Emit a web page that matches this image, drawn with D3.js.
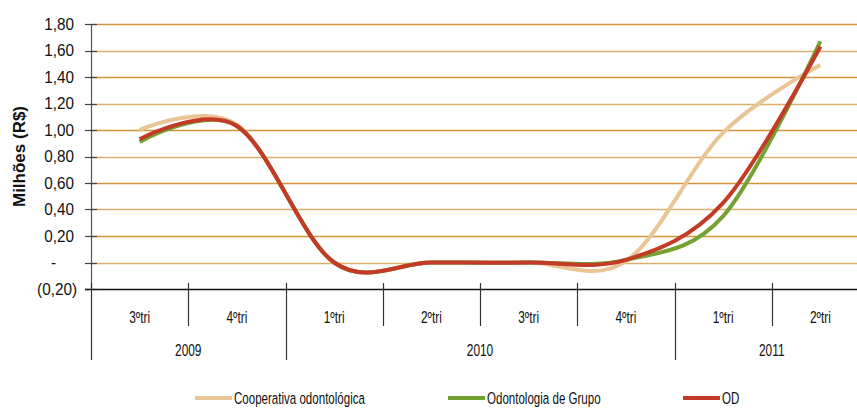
<!DOCTYPE html>
<html>
<head>
<meta charset="utf-8">
<script src="https://cdn.jsdelivr.net/npm/d3@7"></script>
<style>
  body { margin: 0; background: #fff; }
  text { font-family: "Liberation Sans", Arial, sans-serif; fill: #111; }
</style>
</head>
<body>
<div class="canvas"></div>
<script>
// data
const quarters = ['3ºtri', '4ºtri', '1ºtri', '2ºtri', '3ºtri', '4ºtri', '1ºtri', '2ºtri'];
const years = [
  { name: '2009', from: 0, to: 2 },
  { name: '2010', from: 2, to: 6 },
  { name: '2011', from: 6, to: 8 }
];
const cooperativa = [1.00, 1.04, 0.00, 0.00, 0.00, 0.01, 0.98, 1.49];
const grupo       = [0.91, 1.03, 0.00, 0.00, 0.00, 0.02, 0.35, 1.67];
const od          = [0.93, 1.03, 0.00, 0.00, 0.00, 0.02, 0.45, 1.63];
const yTicks = [-0.2, 0, 0.2, 0.4, 0.6, 0.8, 1.0, 1.2, 1.4, 1.6, 1.8];

const series = [
  { name: 'Cooperativa odontológica', values: cooperativa, colour: '#E9C596' },
  { name: 'Odontologia de Grupo', values: grupo, colour: '#74A232' },
  { name: 'OD', values: od, colour: '#C33A26' }
];

const dims = { width: 857, height: 408 };
const plot = { left: 91, right: 869, top: 24, bottom: 289 };
const squeeze = 0.72; // x labels and legend use a condensed face

const svg = d3.select('.canvas')
  .append('svg')
  .attr('width', dims.width)
  .attr('height', dims.height);

const x = d3.scaleBand()
  .domain(d3.range(quarters.length))
  .range([plot.left, plot.right]);

const y = d3.scaleLinear()
  .domain([-0.2, 1.8])
  .range([plot.bottom, plot.top]);

const locale = d3.formatLocale({ decimal: ',', thousands: '.', grouping: [3], currency: ['R$', ''] });
const fmt = locale.format('.2f');
const yLabel = d => d === 0 ? '-' : d < 0 ? `(${fmt(-d)})` : fmt(d);

// gridlines
svg.append('g')
  .selectAll('line')
  .data(yTicks.filter(d => d > -0.2))
  .join('line')
  .attr('x1', plot.left).attr('x2', plot.right)
  .attr('y1', d => Math.round(y(d)) + 0.5).attr('y2', d => Math.round(y(d)) + 0.5)
  .attr('stroke', (d, i) => i % 2 === 0 ? '#DDAE6A' : '#D2953A')
  .attr('stroke-width', 1.3);

// y axis
const yAxis = svg.append('g');
yAxis.append('line')
  .attr('x1', plot.left + 0.5).attr('x2', plot.left + 0.5)
  .attr('y1', plot.top).attr('y2', plot.bottom)
  .attr('stroke', '#555').attr('stroke-width', 1.2);
yAxis.selectAll('.tick')
  .data(yTicks)
  .join('line')
  .attr('x1', plot.left - 6).attr('x2', plot.left + 6)
  .attr('y1', d => Math.round(y(d)) + 0.5).attr('y2', d => Math.round(y(d)) + 0.5)
  .attr('stroke', '#444').attr('stroke-width', 1.2);
yAxis.selectAll('text')
  .data(yTicks)
  .join('text')
  .attr('transform', d => `translate(${d === 0 ? 56 : d < 0 ? 77 : 74},${y(d)}) scale(0.9,1)`)
  .attr('dy', '0.35em')
  .attr('text-anchor', 'end')
  .attr('font-size', 17)
  .text(yLabel);

svg.append('text')
  .attr('transform', `translate(25,${(plot.top + plot.bottom) / 2}) rotate(-90)`)
  .attr('text-anchor', 'middle')
  .attr('font-size', 17)
  .attr('font-weight', 'bold')
  .text('Milhões (R$)');

// x axis with two levels
const xAxis = svg.append('g');
xAxis.append('line')
  .attr('x1', plot.left - 6).attr('x2', plot.right)
  .attr('y1', plot.bottom + 0.5).attr('y2', plot.bottom + 0.5)
  .attr('stroke', '#111').attr('stroke-width', 1.3);

const yearEdges = [0, ...years.map(d => d.to)];
xAxis.selectAll('.qsep')
  .data(d3.range(quarters.length + 1))
  .join('line')
  .attr('x1', i => Math.round(plot.left + i * x.step()) + 0.5)
  .attr('x2', i => Math.round(plot.left + i * x.step()) + 0.5)
  .attr('y1', plot.bottom - 6)
  .attr('y2', i => yearEdges.includes(i) ? 360 : 326)
  .attr('stroke', '#333').attr('stroke-width', 1.2);

xAxis.selectAll('.qlabel')
  .data(quarters)
  .join('text')
  .attr('transform', (d, i) => `translate(${x(i) + x.bandwidth() / 2},317) scale(${squeeze},1)`)
  .attr('dy', '0.35em')
  .attr('text-anchor', 'middle')
  .attr('font-size', 16.5)
  .text(d => d);

xAxis.selectAll('.ylabel')
  .data(years)
  .join('text')
  .attr('transform', d => `translate(${plot.left + (d.from + d.to) / 2 * x.step()},350) scale(${squeeze},1)`)
  .attr('dy', '0.35em')
  .attr('text-anchor', 'middle')
  .attr('font-size', 16.5)
  .text(d => d.name);

// lines, Excel-style smoothing
const line = d3.line()
  .x((d, i) => x(i) + x.bandwidth() / 2)
  .y(d => y(d))
  .curve(d3.curveCardinal.tension(0));

svg.append('g')
  .selectAll('path')
  .data(series)
  .join('path')
  .attr('d', d => line(d.values))
  .attr('fill', 'none')
  .attr('stroke', d => d.colour)
  .attr('stroke-width', 4)
  .attr('stroke-linejoin', 'round');

// legend
const legendX = [195, 448, 683];
const legend = svg.append('g')
  .selectAll('g')
  .data(series)
  .join('g')
  .attr('transform', (d, i) => `translate(${legendX[i]},398)`);
legend.append('line')
  .attr('x1', 0).attr('x2', 37)
  .attr('stroke', d => d.colour)
  .attr('stroke-width', 4);
legend.append('text')
  .attr('transform', `translate(39,0) scale(0.68,1)`)
  .attr('dy', '0.35em')
  .attr('font-size', 17)
  .text(d => d.name);
</script>
</body>
</html>
